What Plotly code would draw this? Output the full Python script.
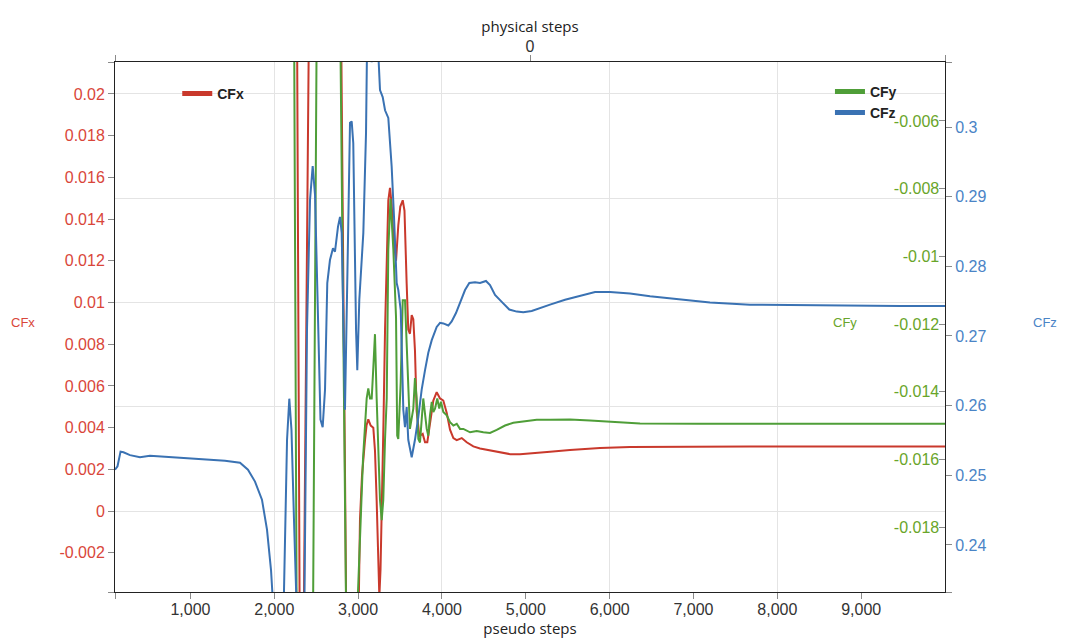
import plotly.graph_objects as go

# ---------------- data ----------------
steps_cfz = [100, 130, 166, 201, 279, 398, 517, 637, 816, 1114,
             1412, 1591, 1686, 1770, 1853, 1913, 1961, 1997, 2032, 2068,
             2104, 2128, 2152, 2179, 2205, 2235, 2271, 2307, 2354, 2390,
             2426, 2458, 2486, 2521, 2551, 2577, 2605, 2632, 2664, 2700,
             2724, 2760, 2784, 2804, 2823, 2843, 2873, 2903, 2923, 2942,
             2975, 2990, 3014, 3062, 3094, 3109, 3133, 3162, 3189, 3213,
             3229, 3261, 3293, 3321, 3360, 3400, 3428, 3460, 3479, 3508,
             3539, 3559, 3579, 3598, 3639, 3678, 3718, 3758, 3798, 3837,
             3878, 3937, 3977, 4016, 4076, 4116, 4167, 4215, 4275, 4326,
             4394, 4454, 4525, 4573, 4633, 4713, 4803, 4892, 4970, 5070,
             5209, 5289, 5468, 5647, 5826, 6004, 6243, 6482, 6839, 7197,
             7674, 8271, 8867, 9463, 10000]
cfz = [0.2508, 0.2513, 0.2534, 0.2533, 0.2529, 0.2526, 0.2528, 0.2527, 0.2525, 0.2523,
       0.2521, 0.2518, 0.2508, 0.2491, 0.2465, 0.2422, 0.2364, 0.2292, 0.2206, 0.2178,
       0.2264, 0.2417, 0.2551, 0.2610, 0.2565, 0.2436, 0.2249, 0.2149, 0.2249, 0.2709,
       0.2895, 0.2944, 0.2902, 0.2709, 0.2580, 0.2569, 0.2623, 0.2776, 0.2809, 0.2826,
       0.2821, 0.2857, 0.2871, 0.2848, 0.2709, 0.2594, 0.2795, 0.3006, 0.3008, 0.2977,
       0.2709, 0.2651, 0.2752, 0.2848, 0.2991, 0.3144, 0.3125, 0.3093, 0.3149, 0.3179,
       0.3135, 0.3053, 0.3043, 0.3024, 0.3013, 0.2943, 0.2871, 0.2776, 0.2766, 0.2737,
       0.2594, 0.2569, 0.2598, 0.2551, 0.2526, 0.2551, 0.2584, 0.2623, 0.2651, 0.2676,
       0.2694, 0.2713, 0.2719, 0.2718, 0.2715, 0.2721, 0.2733, 0.2747, 0.2766, 0.2776,
       0.2777, 0.2776, 0.2779, 0.2773, 0.2759, 0.2749, 0.2738, 0.2735, 0.2734, 0.2736,
       0.2741, 0.2745, 0.2752, 0.2758, 0.2763, 0.2763, 0.2761, 0.2757, 0.2752, 0.2748,
       0.2745, 0.2744, 0.2743, 0.2743, 0.2743]

steps_cfx = [100, 1000, 2000, 2200, 2265, 2307, 2343, 2426, 2600, 2784,
             2867, 2927, 2987, 3002, 3022, 3046, 3082, 3100, 3121, 3150,
             3181, 3201, 3221, 3237, 3253, 3267, 3281, 3303, 3321, 3341,
             3360, 3380, 3400, 3422, 3452, 3479, 3503, 3532, 3553, 3579,
             3598, 3618, 3639, 3658, 3678, 3698, 3730, 3770, 3798, 3825,
             3857, 3897, 3937, 3977, 4016, 4057, 4096, 4136, 4176, 4236,
             4295, 4374, 4454, 4573, 4692, 4812, 4931, 5090, 5289, 5527,
             5885, 6243, 6839, 7674, 8867, 10000]
cfx = [0.045, 0.042, 0.038, 0.034, 0.0293, -0.0091, -0.0091, 0.0293, 0.036, 0.0293,
       -0.0091, -0.0115, -0.0081, -0.0059, -0.0004, 0.0017, 0.0034, 0.0041, 0.0044, 0.0041,
       0.0040, 0.0029, 0.0005, -0.0024, -0.0041, -0.0028, -0.0004, 0.0044, 0.0087, 0.0125,
       0.0149, 0.0155, 0.0147, 0.0130, 0.0120, 0.0137, 0.0146, 0.0149, 0.0144, 0.0109,
       0.0087, 0.0085, 0.0094, 0.0092, 0.0077, 0.0048, 0.0036, 0.0037, 0.0033, 0.0033,
       0.0042, 0.0053, 0.0057, 0.0054, 0.0053, 0.0047, 0.0039, 0.0035, 0.0034, 0.0035,
       0.0033, 0.0031, 0.0030, 0.0029, 0.0028, 0.00273, 0.00273, 0.00277, 0.00284, 0.00293,
       0.00302, 0.00307, 0.00309, 0.00309, 0.00309, 0.00309]

steps_cfy = [100, 1000, 2000, 2230, 2271, 2400, 2456, 2515, 2650, 2772,
             2867, 2927, 2983, 3022, 3058, 3102, 3121, 3142, 3162, 3183,
             3201, 3221, 3240, 3261, 3281, 3300, 3321, 3341, 3360, 3386,
             3420, 3452, 3466, 3479, 3508, 3532, 3559, 3579, 3598, 3618,
             3658, 3678, 3698, 3718, 3738, 3758, 3777, 3818, 3837, 3857,
             3878, 3897, 3917, 3944, 3968, 3988, 4016, 4057, 4096, 4136,
             4176, 4215, 4255, 4335, 4414, 4493, 4573, 4653, 4752, 4851,
             4970, 5130, 5289, 5527, 5766, 6004, 6362, 7078, 8271, 10000]
cfy = [0.004, 0.003, 0.002, 0.0005, -0.0231, -0.026, -0.0231, 0.0005, 0.003, 0.0005,
       -0.0231, -0.0246, -0.0211, -0.0182, -0.0160, -0.0142, -0.0139, -0.0142, -0.0142, -0.0132,
       -0.0123, -0.0142, -0.0160, -0.0172, -0.0178, -0.0172, -0.0154, -0.0142, -0.0098, -0.0083,
       -0.0098, -0.0118, -0.0153, -0.0154, -0.0137, -0.0113, -0.0113, -0.0128, -0.0142, -0.0151,
       -0.0145, -0.0136, -0.0142, -0.0154, -0.0155, -0.0147, -0.0142, -0.0151, -0.0153, -0.0147,
       -0.0143, -0.0146, -0.0145, -0.0142, -0.0145, -0.0143, -0.0146, -0.0147, -0.0149, -0.0150,
       -0.01495, -0.0151, -0.0151, -0.0152, -0.01516, -0.0152, -0.01522, -0.01513, -0.0150, -0.01492,
       -0.01488, -0.01483, -0.01483, -0.01482, -0.01485, -0.01489, -0.01494, -0.01495, -0.01495, -0.01495]

x_range = [100, 10000]
x_ticks = [1000, 2000, 3000, 4000, 5000, 6000, 7000, 8000, 9000]
cfx_range = [-0.00388, 0.02153]
cfx_ticks = [-0.002, 0, 0.002, 0.004, 0.006, 0.008, 0.01, 0.012, 0.014, 0.016, 0.018, 0.02]
cfy_range = [-0.01992, -0.004257]
cfy_ticks = [-0.018, -0.016, -0.014, -0.012, -0.01, -0.008, -0.006]
cfz_range = [0.23325, 0.30933]
cfz_ticks = [0.24, 0.25, 0.26, 0.27, 0.28, 0.29, 0.3]
phys_range = [-1, 1]
phys_ticks = [0]

# ---------------- styling ----------------
RED, GREEN, BLUE = '#c9392c', '#4f9e38', '#3a72b3'
RED_T, GREEN_T, BLUE_T = '#d9463a', '#69a52a', '#4a84c6'
TICK_FONT = 'Liberation Sans, Arial, sans-serif'
TITLE_FONT = 'Open Sans, sans-serif'
AX = '#222222'
TICKC = '#8a8a8a'
GRID = '#e4e4e4'


def lab(v):
    return '{:g}'.format(v)


def with_ends(ticks, rng, fmt):
    vals = [rng[0]] + list(ticks) + [rng[1]]
    txt = [''] + [fmt(v) for v in ticks] + ['']
    return vals, txt


fig = go.Figure()

fig.add_trace(go.Scatter(x=steps_cfz, y=cfz, xaxis='x', yaxis='y3', mode='lines',
                         line=dict(color=BLUE, width=2), showlegend=False, hoverinfo='skip'))
fig.add_trace(go.Scatter(x=steps_cfx, y=cfx, xaxis='x', yaxis='y', mode='lines',
                         line=dict(color=RED, width=2), showlegend=False, hoverinfo='skip'))
fig.add_trace(go.Scatter(x=steps_cfy, y=cfy, xaxis='x', yaxis='y2', mode='lines',
                         line=dict(color=GREEN, width=2), showlegend=False, hoverinfo='skip'))
# invisible carrier traces so the gridline axes and the top axis are drawn
fig.add_trace(go.Scatter(x=steps_cfx, y=cfx, xaxis='x3', yaxis='y4', mode='lines',
                         line=dict(color='rgba(0,0,0,0)', width=0), opacity=0,
                         showlegend=False, hoverinfo='skip'))
fig.add_trace(go.Scatter(x=phys_ticks, y=[None] * len(phys_ticks), xaxis='x2', yaxis='y', mode='lines',
                         line=dict(color='rgba(0,0,0,0)', width=0), opacity=0,
                         showlegend=False, hoverinfo='skip'))

# legend entries
fig.add_trace(go.Scatter(x=[None], y=[None], mode='lines', name='CFx',
                         line=dict(color=RED, width=5), legend='legend'))
fig.add_trace(go.Scatter(x=[None], y=[None], mode='lines', name='CFy',
                         line=dict(color=GREEN, width=5), legend='legend2', legendgroup='a'))
fig.add_trace(go.Scatter(x=[None], y=[None], mode='lines', name='CFz',
                         line=dict(color=BLUE, width=5), legend='legend2', legendgroup='b'))

xv, xt = with_ends(x_ticks, x_range, lambda v: '{:,}'.format(v))
pv, pt = with_ends(phys_ticks, phys_range, lambda v: str(v))
yv, yt = with_ends(cfx_ticks, cfx_range, lab)
y2v, y2t = cfy_ticks, [lab(v) for v in cfy_ticks]
y3v, y3t = with_ends(cfz_ticks, cfz_range, lab)

common = dict(showgrid=False, zeroline=False, showline=True, linecolor=AX, linewidth=1,
              ticks='outside', ticklen=6, tickcolor=TICKC, tickwidth=1, automargin=False)

# the page body adds an 8px offset, so the figure is 8px smaller than the window
fig.update_layout(
    width=1060, height=635,
    margin=dict(l=107, r=123, t=54, b=51, autoexpand=False),
    plot_bgcolor='white', paper_bgcolor='white',
    font=dict(family=TICK_FONT, size=14, color='#222'),
    xaxis=dict(range=x_range, anchor='y', side='bottom', tickmode='array', tickvals=xv, ticktext=xt,
               tickfont=dict(size=16, color='#333'), ticklabelstandoff=-3,
               title=dict(text='pseudo steps', font=dict(family=TITLE_FONT, size=15, color='#222'), standoff=3),
               **common),
    xaxis2=dict(range=phys_range, overlaying='x', anchor='y', side='top', tickmode='array',
                tickvals=pv, ticktext=pt, tickfont=dict(size=16, color='#333'), ticklabelstandoff=-3,
                title=dict(text='physical steps', font=dict(family=TITLE_FONT, size=15, color='#222'), standoff=1),
                **common),
    xaxis3=dict(range=x_range, overlaying='x', anchor='y', side='bottom', showgrid=True, gridcolor=GRID,
                gridwidth=1, tick0=0, dtick=2000, showticklabels=False, ticks='', showline=False,
                zeroline=False, automargin=False),
    yaxis=dict(range=cfx_range, anchor='x', side='left', tickmode='array', tickvals=yv, ticktext=yt,
               tickfont=dict(size=16, color=RED_T), **common),
    yaxis2=dict(range=cfy_range, overlaying='y', anchor='x', side='right', tickmode='array',
                tickvals=y2v, ticktext=y2t, tickfont=dict(size=16, color=GREEN_T),
                ticks='inside', ticklabelposition='inside', ticklen=6, tickcolor=TICKC,
                showgrid=False, zeroline=False, showline=False, automargin=False),
    yaxis3=dict(range=cfz_range, overlaying='y', anchor='x', side='right', tickmode='array',
                tickvals=y3v, ticktext=y3t, tickfont=dict(size=16, color=BLUE_T), **common),
    yaxis4=dict(range=cfx_range, overlaying='y', anchor='x', side='left', showgrid=True, gridcolor=GRID,
                gridwidth=1, tick0=0, dtick=0.005, showticklabels=False, ticks='', showline=False,
                zeroline=False, automargin=False),
    legend=dict(x=0.075, y=0.97, xanchor='left', yanchor='top', bgcolor='rgba(0,0,0,0)',
                font=dict(family=TICK_FONT, size=14, color='#222', weight='bold')),
    legend2=dict(x=0.8614, y=0.974, xanchor='left', yanchor='top', bgcolor='rgba(0,0,0,0)',
                 tracegroupgap=0,
                 font=dict(family=TICK_FONT, size=14, color='#222', weight='bold')),
    annotations=[
        dict(text='CFx', xref='paper', yref='paper', x=-0.1277, y=0.5094, showarrow=False,
             xanchor='left', yanchor='middle', font=dict(family=TICK_FONT, size=13, color=RED_T)),
        dict(text='CFy', xref='paper', yref='paper', x=0.8795, y=0.5094, showarrow=False,
             xanchor='center', yanchor='middle', font=dict(family=TICK_FONT, size=13, color=GREEN_T)),
        dict(text='CFz', xref='paper', yref='paper', x=1.1205, y=0.5094, showarrow=False,
             xanchor='center', yanchor='middle', font=dict(family=TICK_FONT, size=13, color=BLUE_T)),
    ],
)

fig.write_html('out.html', config={'displayModeBar': False})
